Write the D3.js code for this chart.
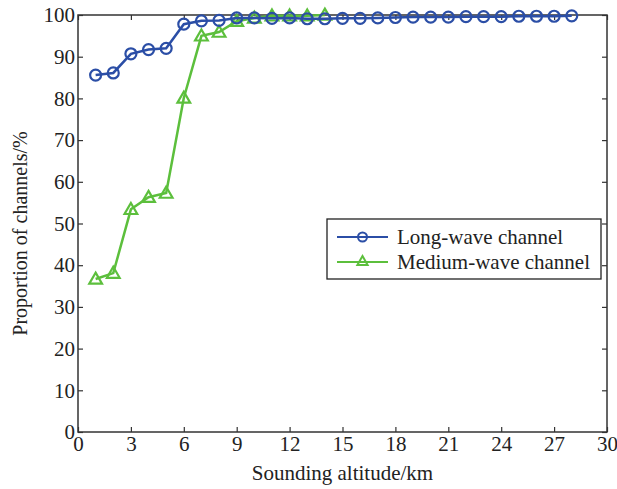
<!DOCTYPE html>
<html>
<head>
<meta charset="utf-8">
<script src="https://cdn.jsdelivr.net/npm/d3@7"></script>
<style>
  body { margin: 0; background: #fff; }
  text { font-family: "Liberation Serif", "DejaVu Serif", serif; }
</style>
</head>
<body>
<div class="center"></div>
<script>
// altitude (km) and proportion (%)
const longAlt = [1,2,3,4,5,6,7,8,9,10,11,12,13,14,15,16,17,18,19,20,21,22,23,24,25,26,27,28];
const longVal = [85.6,86.1,90.7,91.7,92.0,97.8,98.6,98.7,99.3,99.3,99.2,99.3,99.1,99.1,99.2,99.2,99.3,99.4,99.5,99.5,99.5,99.6,99.6,99.6,99.7,99.7,99.7,99.8];
const medAlt = [1,2,3,4,5,6,7,8,9,10,11,12,13,14];
const medVal = [36.7,38.1,53.4,56.3,57.3,80.1,95.0,95.9,98.5,99.3,99.8,99.8,99.8,100];
const xTicks = [0,3,6,9,12,15,18,21,24,27,30];
const yTicks = [0,10,20,30,40,50,60,70,80,90,100];
const seriesNames = ["Long-wave channel", "Medium-wave channel"];

const W = 617, H = 489;
const margin = {top: 15, right: 10, bottom: 57, left: 78};
const width = W - margin.left - margin.right;
const height = H - margin.top - margin.bottom;

const blue = "#2b4ea6";
const green = "#5cbf3c";
const axisCol = "#333";

const xScale = d3.scaleLinear().domain([0, 30]).range([0, width]);
const yScale = d3.scaleLinear().domain([0, 100]).range([height, 0]);

const svg = d3.select(".center").append("svg")
  .attr("width", W).attr("height", H)
  .append("g")
  .attr("transform", `translate(${margin.left},${margin.top})`);

// frame
svg.append("rect")
  .attr("width", width).attr("height", height)
  .attr("fill", "none").attr("stroke", axisCol).attr("stroke-width", 1.5);

// axes with inward ticks
const styleAxis = g => {
  g.select(".domain").remove();
  g.selectAll(".tick line").attr("stroke", axisCol).attr("stroke-width", 1.2);
  g.selectAll(".tick text").attr("fill", "#222").style("font-size", "21px")
    .style("font-family", "Liberation Serif, serif");
};

svg.append("g").attr("transform", `translate(0,${height})`)
  .call(d3.axisBottom(xScale).tickValues(xTicks).tickSizeInner(-5).tickPadding(4))
  .call(styleAxis);
svg.append("g")
  .call(d3.axisTop(xScale).tickValues(xTicks).tickSizeInner(-5).tickFormat(""))
  .call(styleAxis);
svg.append("g")
  .call(d3.axisLeft(yScale).tickValues(yTicks).tickSizeInner(-5).tickPadding(3))
  .call(styleAxis);
svg.append("g").attr("transform", `translate(${width},0)`)
  .call(d3.axisRight(yScale).tickValues(yTicks).tickSizeInner(-5).tickFormat(""))
  .call(styleAxis);

const line = d3.line()
  .x(d => xScale(d[0]))
  .y(d => yScale(d[1]));

const longData = longAlt.map((a, i) => [a, longVal[i]]);
const medData = medAlt.map((a, i) => [a, medVal[i]]);

const tri = d3.symbol().type(d3.symbolTriangle).size(70);

function drawMed() {
  svg.append("path").datum(medData)
    .attr("d", line).attr("fill", "none")
    .attr("stroke", green).attr("stroke-width", 2.5);
  svg.selectAll(".tri").data(medData).enter().append("path")
    .attr("class", "tri")
    .attr("d", tri)
    .attr("transform", d => `translate(${xScale(d[0])},${yScale(d[1]) + 1})`)
    .attr("fill", "none").attr("stroke", green).attr("stroke-width", 2.2);
}
function drawLong() {
  svg.append("path").datum(longData)
    .attr("d", line).attr("fill", "none")
    .attr("stroke", blue).attr("stroke-width", 2.5);
  svg.selectAll(".circ").data(longData).enter().append("circle")
    .attr("class", "circ")
    .attr("cx", d => xScale(d[0])).attr("cy", d => yScale(d[1]))
    .attr("r", 5.5)
    .attr("fill", "none").attr("stroke", blue).attr("stroke-width", 2.2);
}
drawMed();
drawLong();

// axis titles
svg.append("text")
  .attr("x", width / 2).attr("y", height + 48)
  .attr("text-anchor", "middle")
  .style("font-size", "21px").attr("fill", "#222")
  .text("Sounding altitude/km");

svg.append("text")
  .attr("transform", "rotate(-90)")
  .attr("x", -height / 2 - 10).attr("y", -margin.left + 27)
  .attr("text-anchor", "middle")
  .style("font-size", "20px").attr("fill", "#222")
  .text("Proportion of channels/%");

// legend
const lg = svg.append("g").attr("transform", `translate(${327 - margin.left},${219 - margin.top})`);
lg.append("rect").attr("width", 274).attr("height", 60)
  .attr("fill", "#fff").attr("stroke", "#222").attr("stroke-width", 1.3);
const rows = [
  {name: seriesNames[0], col: blue, sym: "c"},
  {name: seriesNames[1], col: green, sym: "t"}
];
rows.forEach((r, i) => {
  const y = 18 + i * 25;
  lg.append("line").attr("x1", 10).attr("x2", 61).attr("y1", y).attr("y2", y)
    .attr("stroke", r.col).attr("stroke-width", 2.2);
  if (r.sym === "c") {
    lg.append("circle").attr("cx", 35.5).attr("cy", y).attr("r", 4.5)
      .attr("fill", "none").attr("stroke", r.col).attr("stroke-width", 2);
  } else {
    lg.append("path").attr("d", d3.symbol().type(d3.symbolTriangle).size(45))
      .attr("transform", `translate(35.5,${y})`)
      .attr("fill", "none").attr("stroke", r.col).attr("stroke-width", 2);
  }
  lg.append("text").attr("x", 70).attr("y", y + 7)
    .style("font-size", "21px").attr("fill", "#222").text(r.name);
});
</script>
</body>
</html>
